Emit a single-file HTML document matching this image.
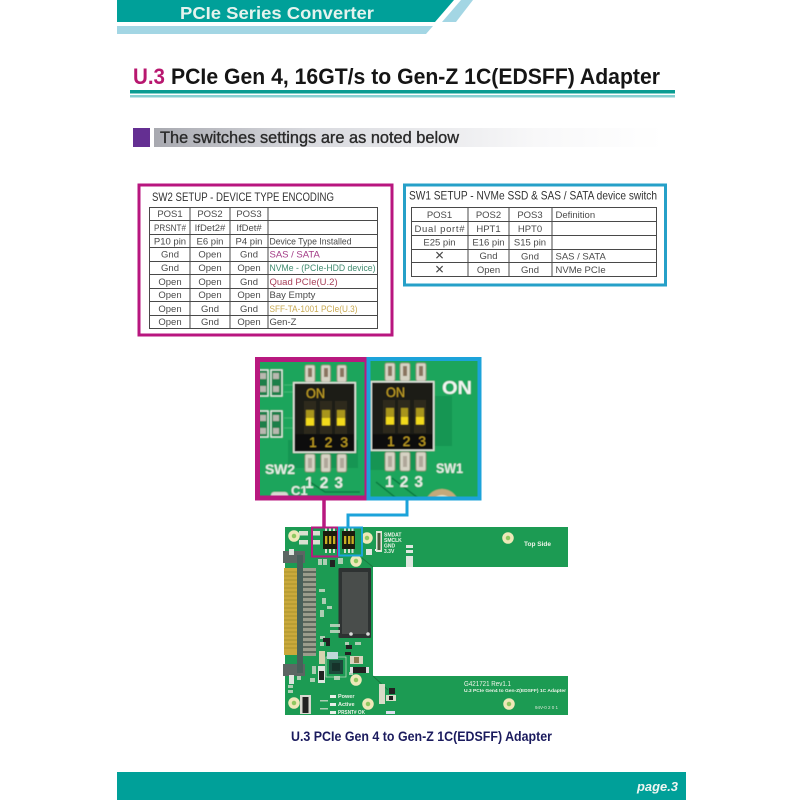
<!DOCTYPE html>
<html>
<head>
<meta charset="utf-8">
<style>
html,body{margin:0;padding:0;background:#fff}
svg{display:block}
text{font-family:"Liberation Sans",sans-serif}
.c{text-anchor:middle;font-size:9.5px;fill:#4a4a4a}
.l{font-size:9.5px;fill:#4a4a4a}
.g{stroke:#4a4a4a;stroke-width:1;fill:none}
.bt{font-weight:bold;fill:#fff}
</style>
</head>
<body>
<svg width="800" height="800" viewBox="0 0 800 800" xmlns="http://www.w3.org/2000/svg">
<defs>
<linearGradient id="bar" x1="0" x2="1" y1="0" y2="0"><stop offset="0" stop-color="#a8a9b0"/><stop offset=".3" stop-color="#d8d9de"/><stop offset=".75" stop-color="#f8f8f9"/><stop offset="1" stop-color="#ffffff"/></linearGradient>
<clipPath id="cl"><rect x="257" y="359" width="222" height="139"/></clipPath>
<filter id="b2" x="-5%" y="-5%" width="110%" height="110%"><feGaussianBlur stdDeviation=".4"/></filter>
<filter id="b3" x="-5%" y="-5%" width="110%" height="110%"><feGaussianBlur stdDeviation=".3"/></filter>
</defs>
<rect width="800" height="800" fill="#fff"/>

<!-- header -->
<polygon points="117,0 454,0 435,22 117,22" fill="#00a099"/>
<polygon points="461,0 473,0 456,22 442,22" fill="#a3d6e4"/>
<polygon points="117,26 433,26 426,34 117,34" fill="#a3d6e4"/>
<text x="180" y="19" font-size="17.500" font-weight="bold" fill="#e4f3ee" textLength="194" lengthAdjust="spacingAndGlyphs">PCIe Series Converter</text>

<!-- title -->
<text x="133" y="84" font-size="22" font-weight="bold" fill="#b8176f" textLength="32" lengthAdjust="spacingAndGlyphs">U.3</text>
<text x="171" y="84" font-size="22" font-weight="bold" fill="#151515" textLength="489" lengthAdjust="spacingAndGlyphs">PCIe Gen 4, 16GT/s to Gen-Z 1C(EDSFF) Adapter</text>
<rect x="130" y="90" width="545" height="3.500" fill="#0a9c92"/>
<rect x="130" y="95" width="545" height="2.500" fill="#84cfd0"/>

<!-- subtitle -->
<rect x="133" y="128" width="17" height="19" fill="#642f92"/>
<rect x="154" y="128" width="510" height="19" fill="url(#bar)"/>
<text x="160" y="143" font-size="16.500" fill="#2a2a2a" textLength="299" lengthAdjust="spacingAndGlyphs" style="stroke:#2a2a2a;stroke-width:.35">The switches settings are as noted below</text>

<g filter="url(#b3)">
<!-- SW2 box -->
<rect x="139" y="185" width="253" height="150" fill="#fff" stroke="#b8197f" stroke-width="3"/>
<text x="152" y="201" font-size="12" fill="#333" textLength="182" lengthAdjust="spacingAndGlyphs">SW2 SETUP - DEVICE TYPE ENCODING</text>
<rect class="g" x="149.500" y="207.500" width="228" height="121"/>
<path class="g" d="M190 207V328M230 207V328M268 207V328M149 220.500H377M149 234.500H377M149 247.500H377M149 261.500H377M149 274.500H377M149 288.500H377M149 301.500H377M149 315.500H377"/>
<g>
<text class="c" x="170" y="217">POS1</text><text class="c" x="210" y="217">POS2</text><text class="c" x="249" y="217">POS3</text>
<text class="c" x="170" y="231" textLength="32" lengthAdjust="spacingAndGlyphs">PRSNT#</text><text class="c" x="210" y="231">IfDet2#</text><text class="c" x="249" y="231">IfDet#</text>
<text class="c" x="170" y="244.500">P10 pin</text><text class="c" x="210" y="244.500">E6 pin</text><text class="c" x="249" y="244.500">P4 pin</text><text class="l" x="269.500" y="244.500" textLength="82" lengthAdjust="spacingAndGlyphs">Device Type Installed</text>
<text class="c" x="170" y="257.500">Gnd</text><text class="c" x="210" y="257.500">Open</text><text class="c" x="249" y="257.500">Gnd</text><text class="l" x="269.500" y="257.500" style="fill:#a33a86">SAS / SATA</text>
<text class="c" x="170" y="271">Gnd</text><text class="c" x="210" y="271">Open</text><text class="c" x="249" y="271">Open</text><text class="l" x="269.500" y="271" textLength="106" lengthAdjust="spacingAndGlyphs" style="fill:#3f8a6e">NVMe - (PCIe-HDD device)</text>
<text class="c" x="170" y="285">Open</text><text class="c" x="210" y="285">Open</text><text class="c" x="249" y="285">Gnd</text><text class="l" x="269.500" y="285" style="fill:#a8405a">Quad PCIe(U.2)</text>
<text class="c" x="170" y="298">Open</text><text class="c" x="210" y="298">Open</text><text class="c" x="249" y="298">Open</text><text class="l" x="269.500" y="298">Bay Empty</text>
<text class="c" x="170" y="312">Open</text><text class="c" x="210" y="312">Gnd</text><text class="c" x="249" y="312">Gnd</text><text class="l" x="269.500" y="312" textLength="88" lengthAdjust="spacingAndGlyphs" style="fill:#c9a950">SFF-TA-1001 PCIe(U.3)</text>
<text class="c" x="170" y="325">Open</text><text class="c" x="210" y="325">Gnd</text><text class="c" x="249" y="325">Open</text><text class="l" x="269.500" y="325">Gen-Z</text>
</g>

<!-- SW1 box -->
<rect x="404.500" y="185" width="261" height="100" fill="#fff" stroke="#27a0c8" stroke-width="3"/>
<text x="409" y="199.500" font-size="12" fill="#333" textLength="248" lengthAdjust="spacingAndGlyphs">SW1 SETUP - NVMe SSD &amp; SAS / SATA device switch</text>
<rect class="g" x="411.500" y="207.500" width="245" height="69"/>
<path class="g" d="M468 207V276M509 207V276M552 207V276M411 221.500H657M411 235.500H657M411 249.500H657M411 262.500H657"/>
<g>
<text class="c" x="439.500" y="218">POS1</text><text class="c" x="488.500" y="218">POS2</text><text class="c" x="530" y="218">POS3</text><text class="l" x="555.500" y="218">Definition</text>
<text class="c" x="439.500" y="232" textLength="50" lengthAdjust="spacing">Dual port#</text><text class="c" x="488.500" y="232">HPT1</text><text class="c" x="530" y="232">HPT0</text>
<text class="c" x="439.500" y="245.500">E25 pin</text><text class="c" x="488.500" y="245.500">E16 pin</text><text class="c" x="530" y="245.500">S15 pin</text>
<text class="c" x="439.500" y="259.500" style="font-size:12px">✕</text><text class="c" x="488.500" y="259">Gnd</text><text class="c" x="530" y="259.500">Gnd</text><text class="l" x="555.500" y="259.500">SAS / SATA</text>
<text class="c" x="439.500" y="273.500" style="font-size:12px">✕</text><text class="c" x="488.500" y="273">Open</text><text class="c" x="530" y="273">Gnd</text><text class="l" x="555.500" y="273">NVMe PCIe</text>
</g>
</g>

<!-- big photo -->
<g clip-path="url(#cl)" filter="url(#b2)">
<rect x="255" y="357" width="226" height="143" fill="#1ea55c"/>
<rect x="288" y="440" width="70" height="28" fill="#128548" opacity=".5"/>
<rect x="367" y="440" width="60" height="30" fill="#128548" opacity=".5"/>
<rect x="434" y="396" width="18" height="50" fill="#128548" opacity=".45"/>
<!-- traces -->
<path d="M284 385H296M284 392H296M284 418H296M284 428H296" stroke="#3fb873" stroke-width="1" fill="none"/>
<path d="M307 480L325 492H360M392 478L418 498M376 482L396 498" stroke="#0f7c42" stroke-width="1.500" fill="none"/>
<!-- left pads -->
<g fill="#1a7f48" stroke="#e8efe8" stroke-width="1.300">
<rect x="258" y="370" width="10" height="26"/><rect x="271" y="370" width="11" height="26"/>
<rect x="258" y="411" width="10" height="26"/><rect x="271" y="411" width="11" height="26"/>
</g>
<g fill="#b9b8b0">
<rect x="260" y="373" width="6" height="6"/><rect x="273" y="373" width="6" height="6"/><rect x="260" y="386" width="6" height="6"/><rect x="273" y="386" width="6" height="6"/>
<rect x="260" y="415" width="6" height="6"/><rect x="273" y="415" width="6" height="6"/><rect x="260" y="428" width="6" height="6"/><rect x="273" y="428" width="6" height="6"/>
</g>
<!-- pads -->
<g fill="#d6d3c4" stroke="#8b8a70" stroke-width=".8">
<rect x="305" y="365" width="10" height="17" rx="2"/><rect x="321" y="365" width="9.500" height="17" rx="2"/><rect x="337" y="365" width="9.500" height="17" rx="2"/>
<rect x="305" y="454" width="10" height="18" rx="2"/><rect x="321" y="454" width="9.500" height="18" rx="2"/><rect x="337" y="454" width="9.500" height="18" rx="2"/>
<rect x="385" y="363" width="10" height="18" rx="2"/><rect x="400" y="363" width="10" height="18" rx="2"/><rect x="416" y="363" width="10" height="18" rx="2"/>
<rect x="385" y="452" width="10" height="19" rx="2"/><rect x="400" y="452" width="10" height="19" rx="2"/><rect x="416" y="452" width="10" height="19" rx="2"/>
</g>
<g fill="#8a7560">
<rect x="308" y="368" width="4" height="9"/><rect x="324" y="368" width="4" height="9"/><rect x="340" y="368" width="4" height="9"/>
<rect x="388" y="366" width="4" height="10"/><rect x="403" y="366" width="4" height="10"/><rect x="419" y="366" width="4" height="10"/>
</g>
<g fill="#b0a79a">
<rect x="308" y="458" width="4" height="10"/><rect x="324" y="458" width="4" height="10"/><rect x="340" y="458" width="4" height="10"/>
<rect x="388" y="456" width="4" height="11"/><rect x="403" y="456" width="4" height="11"/><rect x="419" y="456" width="4" height="11"/>
</g>
<!-- switch bodies -->
<rect x="293" y="382" width="63" height="71" fill="#dfe3da"/>
<rect x="294.500" y="383.500" width="60" height="68" fill="#1f1d14"/>
<rect x="294.500" y="434" width="60" height="17.500" fill="#0e0d07"/>
<rect x="370.500" y="381" width="64" height="70" fill="#dfe3da"/>
<rect x="372" y="382.500" width="61" height="67" fill="#1f1d14"/>
<rect x="372" y="434" width="61" height="15.500" fill="#0e0d07"/>
<!-- slots -->
<g fill="#2d2b1f">
<rect x="304" y="401" width="12" height="33"/><rect x="320" y="401" width="12" height="33"/><rect x="335" y="401" width="12" height="33"/>
<rect x="383" y="400" width="12" height="33"/><rect x="398" y="400" width="12" height="33"/><rect x="414" y="400" width="12" height="33"/>
</g>
<!-- sliders -->
<g fill="#a8951a">
<rect x="306" y="410" width="8" height="9"/><rect x="322" y="410" width="8" height="9"/><rect x="337" y="410" width="8" height="9"/>
<rect x="386" y="408" width="8" height="9"/><rect x="401" y="408" width="7" height="9"/><rect x="416" y="408" width="8" height="9"/>
</g>
<g fill="#f2da1f">
<rect x="306" y="418" width="8" height="7.500"/><rect x="322" y="418" width="8" height="7.500"/><rect x="337" y="418" width="8" height="7.500"/>
<rect x="386" y="417" width="8" height="7.500"/><rect x="401" y="417" width="7" height="7.500"/><rect x="416" y="417" width="8" height="7.500"/>
</g>
<text x="306" y="398" font-size="14" fill="#c8a526" textLength="19" lengthAdjust="spacingAndGlyphs">ON</text>
<text x="386" y="397" font-size="14" fill="#c8a526" textLength="19" lengthAdjust="spacingAndGlyphs">ON</text>
<text x="309" y="447" font-size="14" fill="#c8a526" textLength="39">1 2 3</text>
<text x="387" y="446" font-size="14" fill="#c8a526" textLength="39">1 2 3</text>
<!-- silk -->
<text class="bt" x="442" y="394" font-size="18" textLength="30" lengthAdjust="spacingAndGlyphs" style="fill:#f2f5f2">ON</text>
<text class="bt" x="265" y="474" font-size="14" textLength="30" style="fill:#e8efe8">SW2</text>
<text class="bt" x="436" y="473" font-size="14" textLength="27" lengthAdjust="spacingAndGlyphs" style="fill:#e8efe8">SW1</text>
<text class="bt" x="305" y="488" font-size="15.500" textLength="38" style="fill:#e8efe8">1 2 3</text>
<text class="bt" x="385" y="487" font-size="15.500" textLength="38" style="fill:#e8efe8">1 2 3</text>
<text class="bt" x="291" y="495" font-size="13" style="fill:#e8efe8">C1</text>
<circle cx="442" cy="506" r="17" fill="#c5a97a"/>
<circle cx="442" cy="506" r="11" fill="#e4e3cc"/>
<rect x="271" y="492" width="17" height="8" rx="3" fill="#d8d8d0"/>
</g>
<rect x="257.500" y="359.500" width="109.500" height="138.500" fill="none" stroke="#b8197f" stroke-width="5"/>
<rect x="368.500" y="359" width="111" height="139.500" fill="none" stroke="#1ca3da" stroke-width="4"/>

<!-- board -->
<g filter="url(#b3)">
<path d="M285 527H568V567H373V676H568V715H285Z" fill="#1f9b52"/>
<path d="M373 567L362 558M373 676L388 690" stroke="#137a40" stroke-width="1" fill="none"/>
<!-- connector -->
<rect x="284" y="568" width="13" height="87" fill="#caa93a"/>
<path d="M284 572H297M284 576H297M284 580H297M284 584H297M284 588H297M284 592H297M284 596H297M284 600H297M284 604H297M284 608H297M284 612H297M284 616H297M284 620H297M284 624H297M284 628H297M284 632H297M284 636H297M284 640H297M284 644H297M284 648H297" stroke="#9f8a2c" stroke-width=".8"/>
<rect x="283" y="551" width="22" height="12" fill="#5c6664"/>
<rect x="283" y="664" width="22" height="12" fill="#5c6664"/>
<rect x="297" y="555" width="6" height="118" fill="#46605a"/>
<rect x="303" y="568" width="13" height="88" fill="#9a9d8c"/>
<path d="M303 572H316M303 577H316M303 582H316M303 587H316M303 592H316M303 597H316M303 602H316M303 607H316M303 612H316M303 617H316M303 622H316M303 627H316M303 632H316M303 637H316M303 642H316M303 647H316M303 652H316" stroke="#3a4a3f" stroke-width="1.200"/>
<!-- M.2 block -->
<rect x="338.500" y="568" width="32.500" height="70" rx="1" fill="#2e3333"/>
<rect x="342" y="572" width="26" height="62" fill="#494e4c"/>
<circle cx="351" cy="634" r="1.800" fill="#ddd"/><circle cx="368" cy="634" r="1.800" fill="#ddd"/>
<!-- small components -->
<g fill="#c6d8c4" opacity=".85">
<rect x="318" y="559" width="4" height="6"/><rect x="323" y="559" width="4" height="6"/><rect x="338" y="558" width="5" height="6"/><rect x="319" y="589" width="6" height="3"/><rect x="322" y="598" width="4" height="6"/><rect x="327" y="606" width="5" height="3"/><rect x="320" y="610" width="4" height="7"/><rect x="330" y="624" width="10" height="3"/><rect x="330" y="630" width="10" height="3"/><rect x="320" y="636" width="5" height="3"/><rect x="320" y="642" width="4" height="4"/><rect x="345" y="642" width="4" height="3"/><rect x="355" y="642" width="6" height="3"/><rect x="349" y="672" width="4" height="3"/><rect x="334" y="676" width="6" height="4"/><rect x="312" y="666" width="4" height="8"/><rect x="310" y="678" width="5" height="4"/><rect x="297" y="676" width="4" height="4"/><rect x="288" y="690" width="5" height="3"/><rect x="288" y="685" width="5" height="3"/><rect x="320" y="700" width="8" height="1.500"/><rect x="320" y="708" width="8" height="1.500"/></g>
<g fill="#222">
<rect x="330" y="560" width="5" height="7"/><rect x="323" y="638" width="7" height="4"/><rect x="326" y="642" width="4" height="4"/><rect x="346" y="645" width="6" height="4"/><rect x="345" y="652" width="6" height="3"/>
</g>
<rect x="289" y="675" width="5" height="9" fill="#dfe5df"/>
<rect x="289" y="549" width="5" height="6" fill="#dfe5df"/>
<rect x="329" y="660" width="14" height="14" fill="#1c4a3b"/>
<rect x="332" y="663" width="8" height="8" fill="#16302a"/>
<rect x="326" y="657" width="20" height="20" fill="none" stroke="#c7ddc7" stroke-width=".7"/>
<rect x="350" y="656" width="13" height="8" fill="#d9d4be"/>
<rect x="354" y="657" width="5" height="6" fill="#8a7a50"/>
<rect x="352" y="667" width="15" height="6" fill="#222"/>
<rect x="350" y="667" width="3" height="6" fill="#ddd"/><rect x="366" y="667" width="3" height="6" fill="#ddd"/>
<rect x="319" y="651" width="6" height="13" fill="#d6d3b0"/>
<rect x="327" y="652" width="11" height="7" fill="#c0d8d8"/>
<rect x="318" y="666" width="7" height="17" fill="#dfe5df"/>
<rect x="319" y="671" width="5" height="9" fill="#222"/>
<rect x="300" y="695" width="11" height="19" fill="#d8d8d0"/>
<rect x="302.500" y="697" width="6" height="16" fill="#222"/>
<rect x="375" y="549" width="6" height="2" fill="#eee"/>
<rect x="376" y="531" width="6" height="21" fill="#e2e6d8"/>
<rect x="377.500" y="533" width="3" height="17" fill="#4c5a3e"/>
<rect x="366" y="549" width="6" height="6" fill="#dfe6df"/>
<rect x="406" y="545" width="7" height="3" fill="#dfe6df"/><rect x="406" y="550" width="7" height="3" fill="#dfe6df"/><rect x="406" y="556" width="7" height="11" fill="#dfe6df"/>
<rect x="379" y="684" width="6" height="20" fill="#d8dcc8"/>
<rect x="389" y="688" width="6" height="6" fill="#222"/>
<rect x="386" y="695" width="10" height="6" fill="#d8dcc8"/>
<rect x="389" y="696" width="4" height="4" fill="#222"/>
<rect x="386" y="711" width="9" height="3" fill="#dde"/>
<rect x="330" y="695" width="6" height="3" fill="#e8efe8"/><rect x="330" y="703" width="6" height="3" fill="#e8efe8"/><rect x="330" y="711" width="6" height="3" fill="#e8efe8"/>
<!-- holes -->
<g fill="#8fc860" stroke="#eee8b8" stroke-width="3.500">
<circle cx="294" cy="536" r="4"/><circle cx="367" cy="538" r="4"/><circle cx="508" cy="538" r="4"/>
<circle cx="356" cy="561" r="4"/><circle cx="356" cy="680" r="4"/><circle cx="294" cy="703" r="4"/>
<circle cx="368" cy="704" r="4"/><circle cx="509" cy="704" r="4"/>
</g>
<!-- mini switches -->
<rect x="323" y="531" width="14" height="18" fill="#1c1a10"/>
<rect x="342" y="531" width="13" height="18" fill="#1c1a10"/>
<g fill="#c9ae22">
<rect x="325" y="536" width="2.300" height="8"/><rect x="329" y="536" width="2.300" height="8"/><rect x="333" y="536" width="2.300" height="8"/>
<rect x="344" y="536" width="2.300" height="8"/><rect x="348" y="536" width="2.300" height="8"/><rect x="351.500" y="536" width="2.300" height="8"/>
</g>
<g fill="#d8e0d0">
<rect x="325" y="528.500" width="2" height="2.500"/><rect x="329" y="528.500" width="2" height="2.500"/><rect x="333" y="528.500" width="2" height="2.500"/>
<rect x="325" y="549" width="2" height="4"/><rect x="329" y="549" width="2" height="4"/><rect x="333" y="549" width="2" height="4"/>
<rect x="344" y="528.500" width="2" height="2.500"/><rect x="348" y="528.500" width="2" height="2.500"/><rect x="351.500" y="528.500" width="2" height="2.500"/>
<rect x="344" y="549" width="2" height="4"/><rect x="348" y="549" width="2" height="4"/><rect x="351.500" y="549" width="2" height="4"/>
<rect x="299" y="531" width="9" height="4.500"/><rect x="299" y="540" width="9" height="4.500"/><rect x="312" y="531" width="8" height="4.500"/><rect x="312" y="540" width="8" height="4.500"/>
</g>
<g font-weight="bold" fill="#eef4ea">
<text x="384" y="536.500" font-size="5">SMDAT</text>
<text x="384" y="542" font-size="5">SMCLK</text>
<text x="384" y="547.500" font-size="5">GND</text>
<text x="384" y="553" font-size="5">3.3V</text>
<text x="524" y="546" font-size="6.500">Top Side</text>
<text x="338" y="698" font-size="5.500">Power</text>
<text x="338" y="706" font-size="5.500">Active</text>
<text x="338" y="714" font-size="5.500" textLength="27" lengthAdjust="spacingAndGlyphs">PRSNT# OK</text>
<text x="464" y="692" font-size="4.500" textLength="102" lengthAdjust="spacingAndGlyphs">U.3 PCIe Gen4 to Gen-Z(EDSFF) 1C Adapter</text>
</g>
<text x="464" y="686" font-size="7.500" fill="#eef4ea" textLength="47" lengthAdjust="spacingAndGlyphs">G421721 Rev1.1</text>
<text x="535" y="709" font-size="4.500" fill="#dfe8dc">94V-0 2 0 1</text>
</g>

<!-- connectors and mini frames -->
<path d="M324 500V527" stroke="#b8197f" stroke-width="3.500" fill="none"/>
<path d="M407 500V515H348V527" stroke="#1ca3da" stroke-width="3" fill="none"/>
<rect x="312" y="527.500" width="26" height="29" fill="none" stroke="#b8197f" stroke-width="2"/>
<rect x="339" y="527.500" width="23" height="28" fill="none" stroke="#1ca3da" stroke-width="2"/>

<!-- caption -->
<text x="291" y="741" font-size="13.500" font-weight="bold" fill="#1b1b5e" textLength="261" lengthAdjust="spacingAndGlyphs">U.3 PCIe Gen 4 to Gen-Z 1C(EDSFF) Adapter</text>

<!-- footer -->
<rect x="117" y="772" width="569" height="28" fill="#00a099"/>
<text x="637" y="791" font-size="13" font-weight="bold" font-style="italic" fill="#f0f6f2" textLength="41" lengthAdjust="spacingAndGlyphs">page.3</text>
</svg>
</body>
</html>
